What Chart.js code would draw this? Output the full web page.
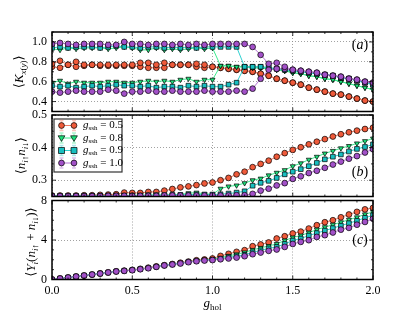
<!DOCTYPE html>
<html lang="en">
<head>
  <meta charset="UTF-8">
  <title>SSH-Holstein observables vs g_hol</title>
  <script src="https://cdn.jsdelivr.net/npm/chart.js"></script>
  <style>
    body { margin: 0; background: #fff; }
    .wrap { position: relative; width: 415px; height: 312px; }
    .wrap canvas { position: absolute; left: 0; top: 0; }
  </style>
</head>
<body>
<div class="wrap">
  <canvas id="kChart" width="415" height="312"></canvas>
  <canvas id="dChart" width="415" height="312"></canvas>
  <canvas id="yChart" width="415" height="312"></canvas>
</div>

<script>
  // x values (g_hol)
  const G_HOL = [0.00, 0.05, 0.10, 0.15, 0.20, 0.25, 0.30, 0.35, 0.40, 0.45,
                 0.50, 0.55, 0.60, 0.65, 0.70, 0.75, 0.80, 0.85, 0.90, 0.95,
                 1.00, 1.05, 1.10, 1.15, 1.20, 1.25, 1.30, 1.35, 1.40, 1.45,
                 1.50, 1.55, 1.60, 1.65, 1.70, 1.75, 1.80, 1.85, 1.90, 1.95, 2.00];
  const G_SSH = ['0.5', '0.8', '0.9', '1.0'];

  // panel (a): <K_x(y)>, two branches per g_ssh that merge after the transition
  const K_RED_HI = [0.78, 0.81, 0.77, 0.80, 0.77, 0.77, 0.77, 0.77, 0.77, 0.77,
                    0.77, 0.79, 0.79, 0.77, 0.79, 0.77, 0.77, 0.77, 0.78, 0.77];
  const K_RED_LO = [0.75, 0.74, 0.77, 0.75, 0.76, 0.77, 0.76, 0.76, 0.76, 0.76,
                    0.76, 0.75, 0.74, 0.74, 0.74, 0.77, 0.77, 0.77, 0.75, 0.74];
  const K_RED_ONE = [0.75, 0.74, 0.73, 0.72, 0.71, 0.70, 0.68, 0.66, 0.63, 0.61,
                     0.59, 0.57, 0.54, 0.52, 0.50, 0.48, 0.47, 0.45, 0.43, 0.41, 0.40];

  const K_GREEN_HI = [0.93, 0.92, 0.94, 0.93, 0.94, 0.94, 0.94, 0.93, 0.94, 0.95,
                      0.94, 0.92, 0.92, 0.94, 0.92, 0.93, 0.92, 0.93, 0.94, 0.93, 0.94];
  const K_GREEN_LO = [0.59, 0.61, 0.58, 0.60, 0.59, 0.59, 0.59, 0.60, 0.60, 0.59,
                      0.59, 0.60, 0.61, 0.60, 0.61, 0.60, 0.62, 0.63, 0.60, 0.62, 0.62];
  const K_GREEN_ONE = [0.76, 0.76, 0.75, 0.75, 0.74, 0.74, 0.73, 0.72, 0.71, 0.69,
                       0.68, 0.66, 0.65, 0.63, 0.62, 0.60, 0.58, 0.56, 0.54, 0.52];

  const K_CYAN_HI = [0.94, 0.95, 0.94, 0.95, 0.95, 0.95, 0.94, 0.95, 0.96, 0.95,
                     0.95, 0.94, 0.95, 0.95, 0.94, 0.95, 0.94, 0.95, 0.94, 0.95,
                     0.95, 0.95, 0.95, 0.95];
  const K_CYAN_LO = [0.56, 0.55, 0.56, 0.54, 0.55, 0.56, 0.55, 0.56, 0.57, 0.56,
                     0.56, 0.55, 0.56, 0.54, 0.55, 0.55, 0.54, 0.56, 0.55, 0.56,
                     0.55, 0.55, 0.57, 0.59];
  const K_CYAN_ONE = [0.75, 0.75, 0.75, 0.74, 0.73, 0.72, 0.71, 0.70, 0.69, 0.68,
                      0.67, 0.66, 0.64, 0.63, 0.61, 0.59, 0.57];

  const K_PURPLE_HI = [0.98, 0.99, 0.98, 0.97, 0.98, 0.98, 0.98, 0.97, 0.97, 1.00,
                       0.98, 0.98, 0.97, 0.98, 0.98, 0.97, 0.98, 0.97, 0.98, 0.97,
                       0.98, 0.98, 0.98, 0.98, 0.98, 0.95, 0.87, 0.78, 0.79, 0.75];
  const K_PURPLE_LO = [0.50, 0.49, 0.50, 0.51, 0.50, 0.50, 0.50, 0.52, 0.51, 0.48,
                       0.50, 0.50, 0.51, 0.50, 0.50, 0.51, 0.50, 0.50, 0.50, 0.51,
                       0.50, 0.50, 0.50, 0.51, 0.50, 0.53, 0.63, 0.72, 0.73, 0.73];
  const K_PURPLE_ONE = [0.72, 0.71, 0.70, 0.69, 0.67, 0.66, 0.65, 0.63, 0.62, 0.60, 0.59];

  // panel (b): <n_up n_down>
  const D_RED = [0.253, 0.253, 0.253, 0.253, 0.254, 0.254, 0.255, 0.256, 0.257, 0.262,
                 0.261, 0.261, 0.264, 0.264, 0.268, 0.273, 0.278, 0.281, 0.285, 0.290,
                 0.293, 0.300, 0.307, 0.318, 0.326, 0.340, 0.350, 0.360, 0.372, 0.383,
                 0.393, 0.401, 0.410, 0.418, 0.426, 0.434, 0.441, 0.447, 0.452, 0.457, 0.461];
  const D_GREEN = [0.252, 0.252, 0.252, 0.252, 0.252, 0.252, 0.253, 0.253, 0.253, 0.253,
                   0.254, 0.254, 0.254, 0.255, 0.255, 0.255, 0.256, 0.260, 0.262, 0.258,
                   0.257, 0.274, 0.281, 0.284, 0.291, 0.300, 0.305, 0.315, 0.323, 0.331,
                   0.343, 0.352, 0.363, 0.372, 0.382, 0.390, 0.398, 0.405, 0.413, 0.420, 0.428];
  const D_CYAN = [0.252, 0.252, 0.252, 0.252, 0.252, 0.252, 0.252, 0.253, 0.253, 0.253,
                  0.253, 0.253, 0.254, 0.254, 0.254, 0.255, 0.255, 0.256, 0.256, 0.256,
                  0.256, 0.257, 0.259, 0.262, 0.266, 0.283, 0.292, 0.298, 0.307, 0.318,
                  0.326, 0.334, 0.343, 0.353, 0.364, 0.372, 0.379, 0.388, 0.396, 0.402, 0.410];
  const D_PURPLE = [0.251, 0.251, 0.251, 0.251, 0.251, 0.251, 0.251, 0.252, 0.252, 0.252,
                    0.252, 0.252, 0.252, 0.252, 0.253, 0.253, 0.253, 0.253, 0.253, 0.253,
                    0.253, 0.253, 0.253, 0.254, 0.254, 0.258, 0.268, 0.274, 0.284, 0.291,
                    0.304, 0.312, 0.322, 0.329, 0.338, 0.348, 0.357, 0.366, 0.374, 0.385, 0.395];

  // panel (c): <Y_i (n_up + n_down)>
  const Y_RED = [0.00, 0.10, 0.20, 0.30, 0.40, 0.50, 0.62, 0.72, 0.83, 0.90,
                 0.98, 1.08, 1.20, 1.33, 1.45, 1.57, 1.70, 1.82, 1.95, 2.03,
                 2.13, 2.39, 2.60, 2.80, 2.97, 3.37, 3.55, 3.75, 4.15, 4.38,
                 4.66, 4.85, 5.16, 5.50, 5.80, 6.00, 6.30, 6.58, 6.85, 7.10, 7.25];
  const Y_GREEN = [0.00, 0.10, 0.20, 0.30, 0.40, 0.50, 0.61, 0.72, 0.82, 0.89,
                   0.96, 1.06, 1.17, 1.30, 1.44, 1.55, 1.66, 1.79, 1.90, 1.98,
                   2.05, 2.20, 2.40, 2.55, 2.75, 3.00, 3.20, 3.40, 3.60, 3.95,
                   4.25, 4.45, 4.75, 5.05, 5.30, 5.55, 5.80, 6.05, 6.30, 6.60, 6.85];
  const Y_CYAN = [0.00, 0.10, 0.20, 0.30, 0.40, 0.50, 0.60, 0.71, 0.82, 0.88,
                  0.95, 1.05, 1.15, 1.29, 1.43, 1.53, 1.64, 1.77, 1.87, 1.95,
                  2.00, 2.10, 2.25, 2.35, 2.50, 2.75, 2.95, 3.15, 3.30, 3.60,
                  3.95, 4.15, 4.45, 4.70, 4.95, 5.20, 5.45, 5.70, 5.95, 6.25, 6.50];
  const Y_PURPLE = [0.00, 0.10, 0.20, 0.30, 0.40, 0.50, 0.60, 0.71, 0.81, 0.87,
                    0.94, 1.04, 1.14, 1.28, 1.42, 1.52, 1.62, 1.75, 1.85, 1.92,
                    1.97, 2.05, 2.13, 2.22, 2.36, 2.56, 2.73, 2.90, 3.04, 3.30,
                    3.60, 3.81, 3.98, 4.31, 4.49, 4.76, 5.05, 5.23, 5.55, 5.83, 6.15];

  // tick labels
  const X_TICKS = [0.0, 0.5, 1.0, 1.5, 2.0];
  const K_TICKS = [0.4, 0.6, 0.8, 1.0];
  const D_TICKS = [0.3, 0.4, 0.5];
  const Y_TICKS = [0, 4, 8];

  const SERIF = '"Liberation Serif", "DejaVu Serif", serif';
  const STYLES = [
    { fill: '#ef5a3a', line: '#f27a62', shape: 'circle' },
    { fill: '#1de07a', line: '#3cec8e', shape: 'triangle' },
    { fill: '#18bfc0', line: '#30d0d0', shape: 'rect' },
    { fill: '#a250c8', line: '#b472d4', shape: 'circle' }
  ];

  Chart.defaults.font.family = SERIF;
  Chart.defaults.font.size = 12;
  Chart.defaults.color = '#000';

  function series(values, idx) {
    const st = STYLES[idx];
    return {
      data: values.map((v, i) => ({ x: G_HOL[i], y: v })),
      borderColor: st.line,
      backgroundColor: st.fill,
      borderWidth: 1,
      pointStyle: st.shape,
      pointRotation: st.shape === 'triangle' ? 180 : 0,
      pointRadius: st.shape === 'rect' ? 3.3 : 2.9,
      pointBorderColor: '#000',
      pointBorderWidth: 0.7,
      order: 4 - idx,
      clip: 0
    };
  }

  // draw a small piece of "math" text: parts are [text, kind]
  // kind: r roman, i italic, s subscript, si italic subscript
  function drawMath(ctx, parts, x, y, size, angle, align) {
    const fontFor = k => (k.endsWith('i') ? 'italic ' : '') +
      Math.round(k.startsWith('s') ? size * 0.7 : size) + 'px ' + SERIF;
    ctx.save();
    ctx.translate(x, y);
    ctx.rotate(angle || 0);
    let total = 0;
    parts.forEach(p => { ctx.font = fontFor(p[1]); total += ctx.measureText(p[0]).width; });
    let cx = align === 'left' ? 0 : -total / 2;
    ctx.textAlign = 'left';
    ctx.textBaseline = 'middle';
    ctx.fillStyle = '#000';
    parts.forEach(p => {
      ctx.font = fontFor(p[1]);
      ctx.fillText(p[0], cx, p[1].startsWith('s') ? size * 0.3 : 0);
      cx += ctx.measureText(p[0]).width;
    });
    ctx.restore();
  }

  function drawMarker(ctx, shape, x, y, st) {
    ctx.beginPath();
    if (shape === 'triangle') {
      ctx.moveTo(x - 3.4, y - 2.2); ctx.lineTo(x + 3.4, y - 2.2); ctx.lineTo(x, y + 3.4); ctx.closePath();
    } else if (shape === 'rect') {
      ctx.rect(x - 3, y - 3, 6, 6);
    } else {
      ctx.arc(x, y, 2.9, 0, Math.PI * 2);
    }
    ctx.fillStyle = st.fill;
    ctx.fill();
    ctx.lineWidth = 0.7;
    ctx.strokeStyle = '#000';
    ctx.stroke();
  }

  const deco = {
    id: 'deco',
    afterDraw(chart, args, o) {
      const { ctx, chartArea: a, scales } = chart;
      const xs = scales.x, ys = scales.y;
      ctx.save();
      // inward ticks on all four sides
      ctx.strokeStyle = '#000';
      ctx.lineWidth = 0.8;
      ctx.beginPath();
      for (let i = 0; i <= 20; i++) {
        const px = xs.getPixelForValue(i / 10);
        const len = i % 5 === 0 ? 4 : 2;
        ctx.moveTo(px, a.bottom); ctx.lineTo(px, a.bottom - len);
        ctx.moveTo(px, a.top); ctx.lineTo(px, a.top + len);
      }
      const k0 = Math.ceil(ys.min / o.minor - 1e-6), k1 = Math.floor(ys.max / o.minor + 1e-6);
      for (let k = k0; k <= k1; k++) {
        const v = k * o.minor;
        const py = ys.getPixelForValue(v);
        const major = o.ticks.some(t => Math.abs(t - v) < 1e-6);
        const len = major ? 4 : 2;
        ctx.moveTo(a.left, py); ctx.lineTo(a.left + len, py);
        ctx.moveTo(a.right, py); ctx.lineTo(a.right - len, py);
      }
      ctx.stroke();
      // frame
      ctx.lineWidth = 1.5;
      ctx.strokeRect(a.left, a.top, a.right - a.left, a.bottom - a.top);

      // y title and panel tag
      drawMath(ctx, o.title, o.titleX, o.titleY || (a.top + a.bottom) / 2, 13, -Math.PI / 2);
      drawMath(ctx, [['(', 'r'], [o.tag, 'i'], [')', 'r']], a.right - 13, o.tagY, 14);

      if (o.xTitle) {
        drawMath(ctx, [['g', 'i'], ['hol', 's']], (a.left + a.right) / 2, 304, 13);
      }
      if (o.legend) {
        const bx = 54, by = 119, bw = 68, bh = 53;
        ctx.fillStyle = '#fff';
        ctx.fillRect(bx, by, bw, bh);
        ctx.lineWidth = 1.2;
        ctx.strokeStyle = '#333';
        ctx.strokeRect(bx, by, bw, bh);
        G_SSH.forEach((g, i) => {
          const st = STYLES[i];
          const ry = by + 6.5 + i * 12.5;
          ctx.strokeStyle = st.line;
          ctx.lineWidth = 1;
          ctx.beginPath(); ctx.moveTo(61.5, ry); ctx.lineTo(74, ry); ctx.stroke();
          // faint error bars in the legend handle
          ctx.strokeStyle = st.fill;
          ctx.globalAlpha = 0.35;
          ctx.lineWidth = 1.5;
          [61.5, 74].forEach(mx => {
            ctx.beginPath();
            ctx.moveTo(mx, ry - 5); ctx.lineTo(mx, ry + 5);
            ctx.moveTo(mx - 2, ry - 5); ctx.lineTo(mx + 2, ry - 5);
            ctx.moveTo(mx - 2, ry + 5); ctx.lineTo(mx + 2, ry + 5);
            ctx.stroke();
          });
          ctx.globalAlpha = 1;
          drawMarker(ctx, st.shape, 61.5, ry, st);
          drawMarker(ctx, st.shape, 74, ry, st);
          drawMath(ctx, [['g', 'i'], ['ssh', 's'], [' = ' + g, 'r']], 83, ry, 10.5, 0, 'left');
        });
      }
      ctx.restore();
    }
  };

  function makePanel(canvasId, datasets, yMin, yMax, yTicks, yFmt, padTop, padBottom, showX, deco_opts) {
    return new Chart(document.getElementById(canvasId), {
      type: 'line',
      data: { datasets: datasets },
      options: {
        responsive: false,
        animation: false,
        events: [],
        layout: { padding: { top: padTop, bottom: padBottom, left: 0, right: 42 } },
        plugins: { legend: { display: false }, tooltip: { enabled: false }, deco: deco_opts },
        scales: {
          x: {
            type: 'linear', min: 0, max: 2,
            afterBuildTicks: s => { s.ticks = X_TICKS.map(v => ({ value: v })); },
            afterFit: s => { s.height = showX ? 18 : 0; s.paddingLeft = 0; s.paddingRight = 0; },
            grid: { color: '#8a8a8a', lineWidth: 0.8, drawTicks: false },
            border: { display: false, dash: [1, 2] },
            ticks: { display: showX, padding: 4, callback: v => v.toFixed(1), maxRotation: 0 }
          },
          y: {
            min: yMin, max: yMax,
            afterBuildTicks: s => { s.ticks = yTicks.map(v => ({ value: v })); },
            afterFit: s => { s.width = 52; s.paddingTop = 0; s.paddingBottom = 0; },
            grid: { color: '#8a8a8a', lineWidth: 0.8, drawTicks: false },
            border: { display: false, dash: [1, 2] },
            ticks: { padding: 5, callback: yFmt }
          }
        }
      },
      plugins: [deco]
    });
  }

  makePanel('kChart', [
    series(K_RED_HI.concat(K_RED_ONE), 0), series(K_RED_LO.concat(K_RED_ONE), 0),
    series(K_GREEN_HI.concat(K_GREEN_ONE), 1), series(K_GREEN_LO.concat(K_GREEN_ONE), 1),
    series(K_CYAN_HI.concat(K_CYAN_ONE), 2), series(K_CYAN_LO.concat(K_CYAN_ONE), 2),
    series(K_PURPLE_HI.concat(K_PURPLE_ONE), 3), series(K_PURPLE_LO.concat(K_PURPLE_ONE), 3)
  ], 0.3, 1.1, K_TICKS, v => v.toFixed(1), 32, 200.5, false, {
    minor: 0.1, ticks: K_TICKS, titleX: 20, tag: 'a', tagY: 45,
    title: [['⟨', 'r'], ['K', 'i'], ['x', 'si'], ['(', 's'], ['y', 'si'], [')', 's'], ['⟩', 'r']]
  });

  makePanel('dChart', [
    series(D_RED, 0), series(D_GREEN, 1), series(D_CYAN, 2), series(D_PURPLE, 3)
  ], 0.25, 0.5, D_TICKS, v => v.toFixed(1), 115, 115.5, false, {
    minor: 0.05, ticks: D_TICKS, titleX: 22, tag: 'b', tagY: 172, legend: true,
    title: [['⟨', 'r'], ['n', 'i'], ['i↑', 'si'], ['n', 'i'], ['i↓', 'si'], ['⟩', 'r']]
  });

  makePanel('yChart', [
    series(Y_RED, 0), series(Y_GREEN, 1), series(Y_CYAN, 2), series(Y_PURPLE, 3)
  ], 0, 8, Y_TICKS, v => String(v), 200.5, 14.5, true, {
    minor: 1, ticks: Y_TICKS, titleX: 32, titleY: 242, tag: 'c', tagY: 240, xTitle: true,
    title: [['⟨', 'r'], ['Y', 'i'], ['i', 'si'], ['(', 'r'], ['n', 'i'], ['i↑', 'si'], [' + ', 'r'],
            ['n', 'i'], ['i↓', 'si'], [')', 'r'], ['⟩', 'r']]
  });
</script>
</body>
</html>
